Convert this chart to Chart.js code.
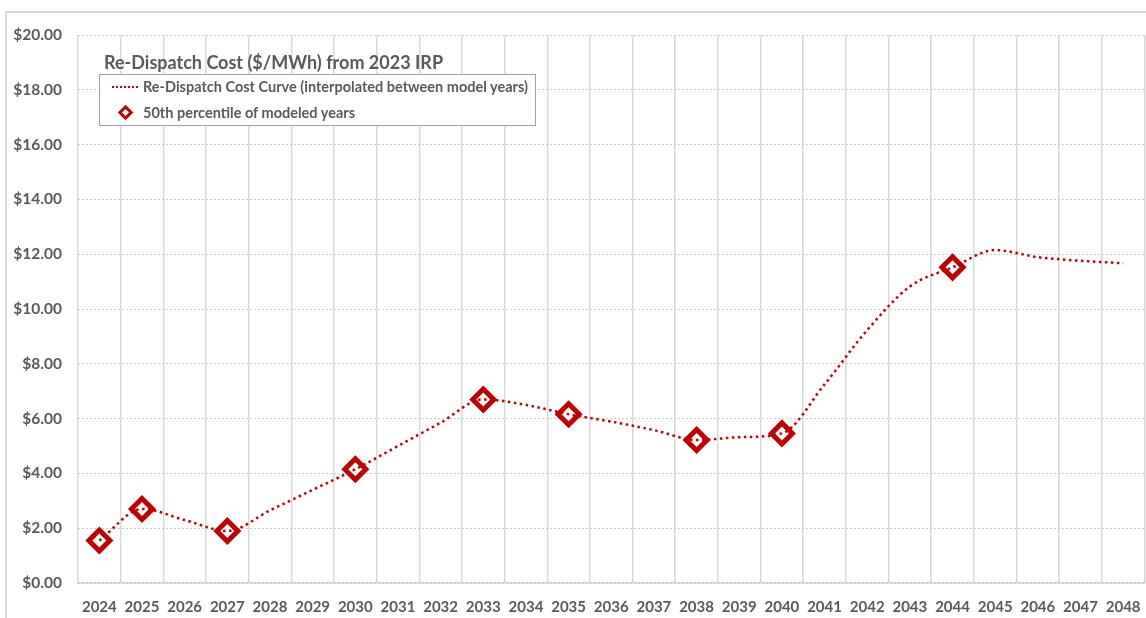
<!DOCTYPE html>
<html>
<head>
<meta charset="utf-8">
<script src="https://cdn.jsdelivr.net/npm/chart.js@4"></script>
<style>
  html, body { margin: 0; padding: 0; background: #fff; overflow: hidden; }
  #wrap { position: relative; width: 1146px; height: 618px; overflow: hidden; }
  #frame { position: absolute; left: 5px; top: 11px; width: 1200px; height: 700px; border: 2px solid #d9d9d9; }
  canvas { position: absolute; left: 0; top: 0; }
  .txt { position: absolute; font-family: Lato, sans-serif; font-weight: bold; color: #595959; white-space: nowrap; }
  #titulo { left: 104px; top: 50px; font-size: 18px; line-height: 24px; }
  #leyenda { position: absolute; left: 99px; top: 74px; width: 435px; height: 50px; border: 1px solid #a0a0a0; background: #fff; }
  .linea { position: absolute; left: 12px; top: 11px; width: 26px; border-top: 2px dotted #c00000; }
  .rombo { position: absolute; left: 20px; top: 32px; width: 5px; height: 5px; border: 3.5px solid #c00000; background: #fff; transform: rotate(45deg); }
</style>
</head>
<body>
<div id="wrap">
  <div id="frame"></div>
  <!-- canvas algo más ancho que la ventana: Chart.js reserva margen a la derecha para la última etiqueta -->
  <canvas id="grafico" width="1160" height="618"></canvas>
  <div id="titulo" class="txt">Re-Dispatch Cost ($/MWh) from 2023 IRP</div>
  <div id="leyenda">
    <div class="linea"></div>
    <div class="txt" style="left:43px; top:3px; font-size:14.5px; line-height:18px;">Re-Dispatch Cost Curve (interpolated between model years)</div>
    <div class="rombo"></div>
    <div class="txt" style="left:43px; top:29px; font-size:14.5px; line-height:18px;">50th percentile of modeled years</div>
  </div>
</div>
<script>
const años = ["2024", "2025", "2026", "2027", "2028", "2029", "2030", "2031", "2032", "2033", "2034", "2035", "2036",
  "2037", "2038", "2039", "2040", "2041", "2042", "2043", "2044", "2045", "2046", "2047", "2048"];

const curva = [1.55, 2.70, 2.30, 1.90, 2.65, 3.40, 4.15, 5.00, 5.85, 6.70, 6.50, 6.16, 5.89,
  5.58, 5.22, 5.32, 5.46, 7.25, 9.23, 10.82, 11.52, 12.15, 11.89, 11.76, 11.67];

const percentil50 = [1.55, 2.70, null, 1.90, null, null, 4.15, null, null, 6.70, null, 6.16, null,
  null, 5.22, null, 5.46, null, null, null, 11.52, null, null, null, null];

const ticksY = [0, 2, 4, 6, 8, 10, 12, 14, 16, 18, 20];

const rojo = "#c00000";
const gris = "#595959";
const fuente = { family: "Lato", weight: "bold", size: 15 };

new Chart(document.getElementById("grafico"), {
  type: "line",
  data: {
    labels: años,
    datasets: [
      {
        label: "Re-Dispatch Cost Curve (interpolated between model years)",
        data: curva,
        borderColor: rojo,
        borderWidth: 2.5,
        borderDash: [2.5, 3.5],
        pointRadius: 0,
        cubicInterpolationMode: "monotone",
        fill: false,
        order: 0,
      },
      {
        label: "50th percentile of modeled years",
        data: percentil50,
        showLine: false,
        pointStyle: "rectRot",
        pointRadius: 10.5,
        pointBorderWidth: 5,
        pointBorderColor: rojo,
        pointBackgroundColor: "#ffffff",
        order: 1,
      },
    ],
  },
  options: {
    responsive: false,
    animation: false,
    layout: { padding: { top: 35, right: 2, left: 0, bottom: 0 } },
    plugins: {
      legend: { display: false },
      tooltip: { enabled: false },
    },
    scales: {
      x: {
        offset: true,
        grid: { offset: true, color: "#d9d9d9", lineWidth: 1.5, drawTicks: false },
        border: { display: true, color: "#d0d0d0", width: 1.5 },
        ticks: { color: gris, font: fuente, padding: 15, maxRotation: 0, autoSkip: false },
        afterFit: (s) => { s.height = 35; },
      },
      y: {
        min: 0,
        max: 20,
        afterBuildTicks: (s) => { s.ticks = ticksY.map((v) => ({ value: v })); },
        grid: { color: "#cccccc", lineWidth: 1, drawTicks: false },
        border: { display: false, dash: [2, 2] },
        ticks: {
          color: gris,
          font: { family: "Lato", weight: "bold", size: 15.5 },
          padding: 16,
          callback: (v) => "$" + Number(v).toFixed(2),
        },
        afterFit: (s) => { s.width = 78; },
      },
    },
  },
});
</script>
</body>
</html>
